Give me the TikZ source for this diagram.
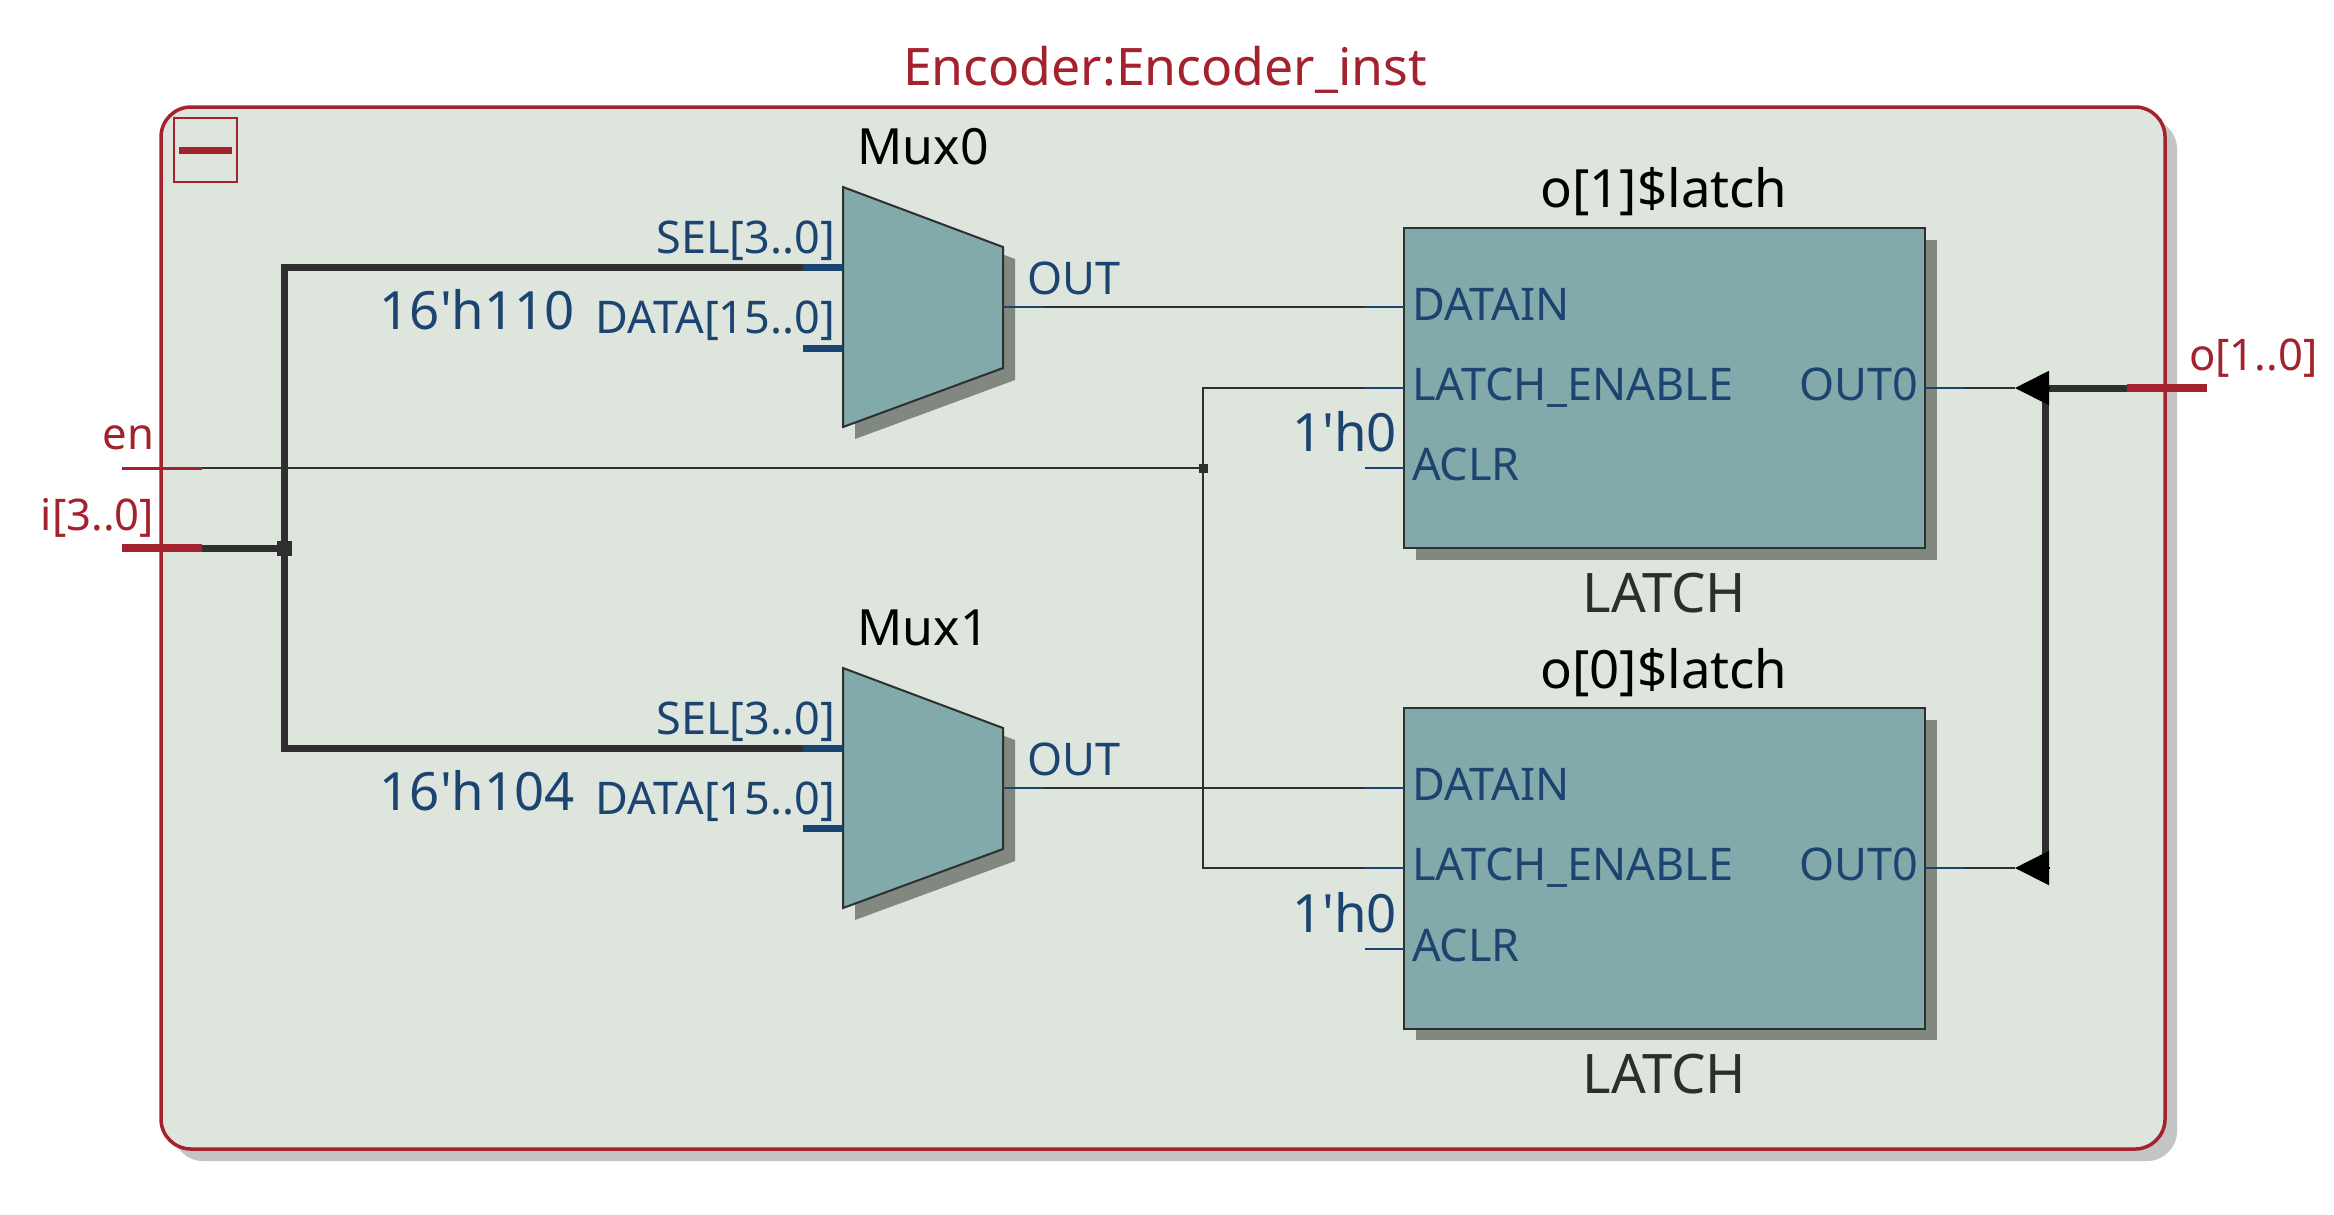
\documentclass[tikz,border=0pt]{standalone}
\usepackage{fontspec}
\setmainfont{Noto Sans}
\usetikzlibrary{arrows.meta}
\begin{document}
\begin{tikzpicture}[x={(0.01cm,0cm)},y={(0cm,-0.01cm)},
  every node/.style={inner sep=0pt, outer sep=0pt},
  panel/.style={draw={rgb,255:red,164;green,33;blue,46},fill={rgb,255:red,222;green,229;blue,221},line width=0.035cm,rounded corners=0.3cm},
  block/.style={draw={rgb,255:red,45;green,48;blue,48},fill={rgb,255:red,131;green,170;blue,171},line width=0.02cm},
  latchblock/.style={block,minimum width=5.21cm,minimum height=3.2cm},
  blockshadow/.style={fill={rgb,255:red,128;green,136;blue,128}},
  wire/.style={draw={rgb,255:red,47;green,47;blue,47},line width=0.02cm},
  bus/.style={draw={rgb,255:red,47;green,47;blue,47},line width=0.07cm},
  pinthin/.style={draw={rgb,255:red,27;green,69;blue,112},line width=0.02cm},
  pinthick/.style={draw={rgb,255:red,27;green,69;blue,112},line width=0.07cm},
  portthin/.style={draw={rgb,255:red,164;green,33;blue,46},line width=0.03cm},
  portthick/.style={draw={rgb,255:red,164;green,33;blue,46},line width=0.08cm},
  pinleft/.style={anchor=base west,text={rgb,255:red,27;green,69;blue,112},font=\fontsize{12.8pt}{14pt}\selectfont},
  pinright/.style={anchor=base east,text={rgb,255:red,27;green,69;blue,112},font=\fontsize{12.8pt}{14pt}\selectfont},
  constval/.style={anchor=base east,text={rgb,255:red,27;green,69;blue,112},font=\fontsize{15pt}{17pt}\selectfont},
  muxname/.style={anchor=base,text=black,font=\fontsize{14.2pt}{17pt}\selectfont},
  instname/.style={anchor=base,text=black,font=\fontsize{15pt}{17pt}\selectfont},
  typename/.style={anchor=base,text={rgb,255:red,45;green,45;blue,45},font=\fontsize{15.5pt}{17pt}\selectfont},
  portname/.style={text={rgb,255:red,164;green,33;blue,46},font=\fontsize{12.4pt}{14pt}\selectfont},
  tap/.style={fill={rgb,255:red,47;green,47;blue,47}},
  wiretip/.style={-{Triangle[length=0.34cm,width=0.34cm]},line width=0.02cm,black}]
\useasboundingbox (0,0) rectangle (2334,1214);
% panel
\fill[fill={rgb,255:red,196;green,196;blue,196},rounded corners=0.3cm] (173,119) rectangle (2177,1161);
\draw[panel] (161,107) rectangle (2165,1149);
\node[anchor=base,text={rgb,255:red,164;green,33;blue,46},font=\fontsize{14.7pt}{17pt}\selectfont] (title) at (1165,85.5) {Encoder:Encoder\_inst};
\draw[draw={rgb,255:red,164;green,33;blue,46},line width=0.015cm] (174,118) rectangle (237,182);
\fill[fill={rgb,255:red,164;green,33;blue,46}] (179,147) rectangle (232,154);
% muxes
\fill[blockshadow] (855,199) -- (1015,259) -- (1015,380) -- (855,439) -- cycle;
\draw[block] (843,187) -- (1003,247) -- (1003,368) -- (843,427) -- cycle;
\fill[blockshadow] (855,680) -- (1015,740) -- (1015,861) -- (855,920) -- cycle;
\draw[block] (843,668) -- (1003,728) -- (1003,849) -- (843,908) -- cycle;
\node[muxname] (mux0name) at (923,164.5) {Mux0};
\node[muxname] (mux1name) at (923,645.5) {Mux1};
% latches
\fill[blockshadow] (1416,240) rectangle (1937,560);
\node[latchblock] (lat1) at (1664.5,388) {};
\fill[blockshadow] (1416,720) rectangle (1937,1040);
\node[latchblock] (lat0) at (1664.5,868.5) {};
\node[instname] (lat1name) at (1664,207) {o[1]\$latch};
\node[instname] (lat0name) at (1664,688) {o[0]\$latch};
\node[typename] (lat1type) at (1664.5,612.5) {LATCH};
\node[typename] (lat0type) at (1664.5,1093) {LATCH};
% pin labels
\node[pinright] (m0sellab) at (835,253) {SEL[3..0]};
\node[pinright] (m0datlab) at (835,333) {DATA[15..0]};
\node[pinleft] (m0outlab) at (1027,294) {OUT};
\node[constval] (m0const) at (575,329.5) {16\textquotesingle h110};
\node[pinright] (m1sellab) at (835,734) {SEL[3..0]};
\node[pinright] (m1datlab) at (835,814) {DATA[15..0]};
\node[pinleft] (m1outlab) at (1027,775) {OUT};
\node[constval] (m1const) at (575,810.5) {16\textquotesingle h104};
\node[pinleft] (l1datlab) at (1412,320.5) {DATAIN};
\node[pinleft] (l1enlab) at (1412,400.5) {LATCH\_ENABLE};
\node[pinleft] (l1clrlab) at (1412,480.5) {ACLR};
\node[pinright] (l1outlab) at (1918,400.5) {OUT0};
\node[constval] (l1const) at (1397,451.5) {1\textquotesingle h0};
\node[pinleft] (l0datlab) at (1412,800.5) {DATAIN};
\node[pinleft] (l0enlab) at (1412,880.5) {LATCH\_ENABLE};
\node[pinleft] (l0clrlab) at (1412,961.5) {ACLR};
\node[pinright] (l0outlab) at (1918,880.5) {OUT0};
\node[constval] (l0const) at (1397,932.5) {1\textquotesingle h0};
% ports
\node[portname,anchor=base east] (enlab) at (154,449) {en};
\node[portname,anchor=base east] (ilab) at (154,530) {i[3..0]};
\node[portname,anchor=base west] (olab) at (2189,370) {o[1..0]};
\coordinate (enout) at (122,468);
\coordinate (enin) at (202,468);
\coordinate (iout) at (122,548);
\coordinate (iin) at (202,548);
\coordinate (obus) at (2127,388);
\coordinate (oend) at (2207,388);
% pin ends
\coordinate (m0sel) at (843,267.5);
\coordinate (m0selw) at (803,267.5);
\coordinate (m0dat) at (843,348);
\coordinate (m0datw) at (803,348);
\coordinate (m0out) at (1003,307);
\coordinate (m0outw) at (1043,307);
\coordinate (m1sel) at (843,748.5);
\coordinate (m1selw) at (803,748.5);
\coordinate (m1dat) at (843,828);
\coordinate (m1datw) at (803,828);
\coordinate (m1out) at (1003,788);
\coordinate (m1outw) at (1043,788);
\coordinate (l1dat) at (1404,307);
\coordinate (l1datw) at (1365,307);
\coordinate (l1en) at (1404,388);
\coordinate (l1enw) at (1365,388);
\coordinate (l1clr) at (1404,468);
\coordinate (l1clrw) at (1365,468);
\coordinate (l1out) at (1925,388);
\coordinate (l1outw) at (1965,388);
\coordinate (l0dat) at (1404,788);
\coordinate (l0datw) at (1365,788);
\coordinate (l0en) at (1404,868);
\coordinate (l0enw) at (1365,868);
\coordinate (l0clr) at (1404,949);
\coordinate (l0clrw) at (1365,949);
\coordinate (l0out) at (1925,868);
\coordinate (l0outw) at (1965,868);
\coordinate (tip1) at (2015,388);
\coordinate (tip0) at (2015,868);
\coordinate (base1) at (2049,388);
\coordinate (base0) at (2049,868);
\coordinate (bustop) at (2045.5,388);
\coordinate (busbot) at (2045.5,868);
% wires
\node[tap,minimum size=0.15cm] (itap) at (284,548) {};
\node[tap,minimum size=0.09cm] (entap) at (1203,468) {};
\draw[bus] (iin) -- (itap.center);
\draw[bus] (m0selw) -| (itap.center) |- (m1selw);
\draw[wire] (enin) -- (entap.center);
\draw[wire] (l1enw) -| (entap.center) |- (l0enw);
\draw[wire] (m0outw) -- (l1datw);
\draw[wire] (m1outw) -- (l0datw);
\draw[bus] (bustop) -- (busbot);
\draw[bus] (base1) -- (obus);
\draw[wire] (l1outw) -- (tip1);
\draw[wire] (l0outw) -- (tip0);
\draw[wiretip] (base1) -- (tip1);
\draw[wiretip] (base0) -- (tip0);
% pin stubs
\draw[pinthick] (m0selw) -- (m0sel);
\draw[pinthick] (m0datw) -- (m0dat);
\draw[pinthick] (m1selw) -- (m1sel);
\draw[pinthick] (m1datw) -- (m1dat);
\draw[pinthin] (m0out) -- (m0outw);
\draw[pinthin] (m1out) -- (m1outw);
\draw[pinthin] (l1datw) -- (l1dat);
\draw[pinthin] (l1enw) -- (l1en);
\draw[pinthin] (l1clrw) -- (l1clr);
\draw[pinthin] (l1out) -- (l1outw);
\draw[pinthin] (l0datw) -- (l0dat);
\draw[pinthin] (l0enw) -- (l0en);
\draw[pinthin] (l0clrw) -- (l0clr);
\draw[pinthin] (l0out) -- (l0outw);
\draw[portthin] (enout) -- (enin);
\draw[portthick] (iout) -- (iin);
\draw[portthick] (obus) -- (oend);
\end{tikzpicture}
\end{document}
